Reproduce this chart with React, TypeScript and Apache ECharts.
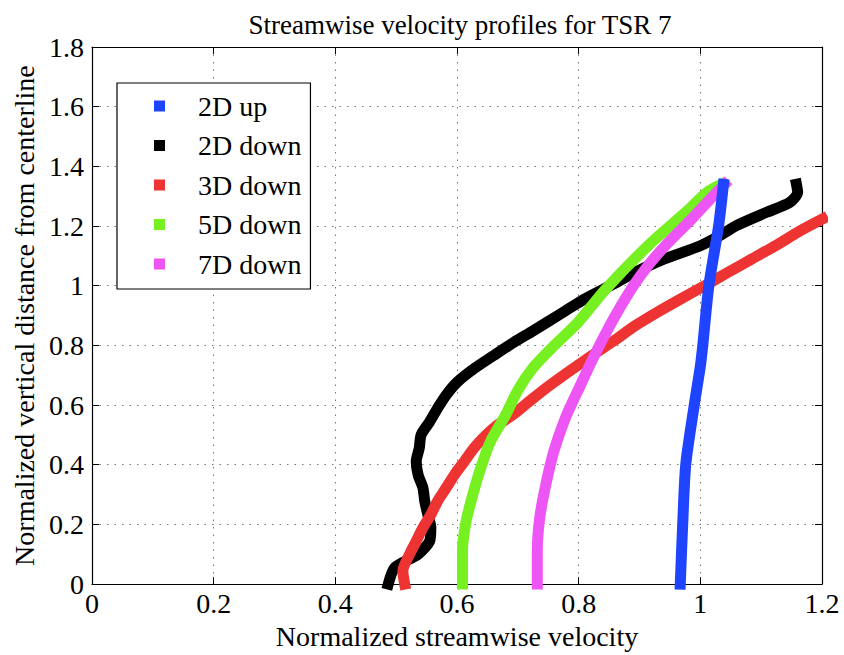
import React, { useEffect, useRef } from "react";
import * as echarts from "echarts";

const seriesNames = ["2D up", "2D down", "3D down", "5D down", "7D down"];
const seriesColors = ["#1E44FF", "#000000", "#EE3333", "#77F022", "#EE55F5"];

const xTicks = [0, 0.2, 0.4, 0.6, 0.8, 1, 1.2];
const yTicks = [0, 0.2, 0.4, 0.6, 0.8, 1, 1.2, 1.4, 1.6, 1.8];

// 2D up
const up2dVel = [0.967, 0.971, 0.976, 0.99, 1.0, 1.004, 1.014, 1.03, 1.038];
const up2dY = [0, 0.2, 0.4, 0.6, 0.73, 0.8, 1.0, 1.2, 1.34];

// 2D down
const down2dVel = [0.487, 0.498, 0.536, 0.555, 0.557, 0.552, 0.547, 0.544, 0.536, 0.533, 0.538, 0.541, 0.555, 0.568, 0.582, 0.601, 0.628, 0.661, 0.694, 0.722, 0.75, 0.78, 0.812, 0.852, 0.888, 0.935, 1.0, 1.032, 1.06, 1.109, 1.147, 1.16, 1.158];
const down2dY = [0, 0.056, 0.1, 0.144, 0.189, 0.233, 0.278, 0.322, 0.367, 0.411, 0.456, 0.5, 0.544, 0.589, 0.633, 0.678, 0.722, 0.767, 0.811, 0.845, 0.88, 0.918, 0.958, 1.0, 1.04, 1.085, 1.134, 1.168, 1.202, 1.246, 1.279, 1.313, 1.34];

// 3D down
const down3dVel = [0.514, 0.511, 0.522, 0.533, 0.544, 0.557, 0.568, 0.582, 0.596, 0.612, 0.628, 0.648, 0.668, 0.692, 0.715, 0.749, 0.787, 0.826, 0.859, 0.893, 0.93, 0.968, 1.007, 1.045, 1.085, 1.125, 1.165, 1.201];
const down3dY = [0, 0.044, 0.1, 0.144, 0.189, 0.233, 0.278, 0.322, 0.367, 0.411, 0.456, 0.5, 0.535, 0.568, 0.606, 0.661, 0.717, 0.772, 0.817, 0.866, 0.912, 0.956, 1.0, 1.044, 1.09, 1.136, 1.185, 1.224];

// 5D down
const down5dVel = [0.609, 0.609, 0.615, 0.626, 0.639, 0.655, 0.68, 0.70, 0.725, 0.76, 0.798, 0.845, 0.917, 0.978, 1.011, 1.035];
const down5dY = [0, 0.111, 0.211, 0.3, 0.389, 0.478, 0.567, 0.65, 0.725, 0.8, 0.875, 0.99, 1.14, 1.25, 1.313, 1.34];

// 7D down
const down7dVel = [0.732, 0.732, 0.736, 0.746, 0.759, 0.778, 0.803, 0.822, 0.843, 0.866, 0.89, 0.915, 0.945, 0.984, 1.016, 1.04];
const down7dY = [0, 0.111, 0.222, 0.333, 0.444, 0.556, 0.667, 0.75, 0.835, 0.92, 1.0, 1.07, 1.14, 1.22, 1.29, 1.34];

const pair = (xs: number[], ys: number[]) => xs.map((x, i) => [x, ys[i]]);

const FONT = "'Liberation Serif', 'Times New Roman', serif";

export default function App() {
  const ref = useRef<HTMLDivElement>(null);
  useEffect(() => {
    if (!ref.current) return;
    const chart = echarts.init(ref.current, null, { renderer: "svg" });
    const allData = [
      pair(up2dVel, up2dY),
      pair(down2dVel, down2dY),
      pair(down3dVel, down3dY),
      pair(down5dVel, down5dY),
      pair(down7dVel, down7dY),
    ];
    const drawOrder = [1, 2, 3, 4, 0];
    const series = drawOrder.map((i) => ({
      name: seriesNames[i],
      type: "line",
      data: allData[i],
      showSymbol: false,
      symbol: "rect",
      clip: false,
      smooth: 0.25,
      color: seriesColors[i],
      lineStyle: { width: 11, color: seriesColors[i], cap: "square", join: "round" },
      emphasis: { disabled: true },
    }));
    const commonTicks = { show: true, inside: true, length: 7, lineStyle: { color: "#000", width: 1 } };
    const axisLine = { show: true, onZero: false, lineStyle: { color: "#000", width: 1.2 } };
    const fmt = (v: number) => String(+v.toFixed(1));
    chart.setOption({
      animation: false,
      backgroundColor: "#fff",
      textStyle: { fontFamily: FONT },
      title: {
        text: "Streamwise velocity profiles for TSR 7",
        left: 455,
        textAlign: "center",
        top: 6,
        textStyle: { fontFamily: FONT, fontSize: 27, fontWeight: "normal", color: "#000" },
      },
      legend: {
        data: seriesNames.map((n, i) => ({ name: n, itemStyle: { color: seriesColors[i] } })),
        orient: "vertical",
        left: 117,
        top: 83,
        padding: [9, 9, 11, 37],
        itemWidth: 11,
        itemHeight: 11,
        itemGap: 11.5,
        icon: "rect",
        borderColor: "#000",
        borderWidth: 1.2,
        backgroundColor: "#fff",
        selectedMode: false,
        textStyle: { fontFamily: FONT, fontSize: 28, color: "#000", lineHeight: 28, padding: [0, 0, 0, 28] },
      },
      grid: { left: 92, right: 22, top: 47, bottom: 64, containLabel: false },
      xAxis: [
        {
          type: "value",
          min: xTicks[0],
          max: xTicks[xTicks.length - 1],
          interval: 0.2,
          position: "bottom",
          name: "Normalized streamwise velocity",
          nameLocation: "middle",
          nameGap: 32,
          nameTextStyle: { fontFamily: FONT, fontSize: 28, color: "#000" },
          axisLine,
          axisTick: commonTicks,
          axisLabel: { fontFamily: FONT, fontSize: 28, color: "#000", margin: 5, formatter: fmt },
          splitLine: { show: true, lineStyle: { color: "#777", type: [1.5, 6], width: 1 } },
        },
        {
          type: "value",
          min: xTicks[0],
          max: xTicks[xTicks.length - 1],
          interval: 0.2,
          position: "top",
          axisLine,
          axisTick: commonTicks,
          axisLabel: { show: false },
          splitLine: { show: false },
        },
      ],
      yAxis: [
        {
          type: "value",
          min: yTicks[0],
          max: yTicks[yTicks.length - 1],
          interval: 0.2,
          position: "left",
          name: "Normalized vertical distance from centerline",
          nameLocation: "middle",
          nameGap: 52,
          nameTextStyle: { fontFamily: FONT, fontSize: 28, color: "#000" },
          axisLine,
          axisTick: commonTicks,
          axisLabel: { fontFamily: FONT, fontSize: 28, color: "#000", margin: 8, formatter: fmt },
          splitLine: { show: true, lineStyle: { color: "#777", type: [1.5, 6], width: 1 } },
        },
        {
          type: "value",
          min: yTicks[0],
          max: yTicks[yTicks.length - 1],
          interval: 0.2,
          position: "right",
          axisLine,
          axisTick: commonTicks,
          axisLabel: { show: false },
          splitLine: { show: false },
        },
      ],
      series,
    });
    return () => chart.dispose();
  }, []);
  return <div ref={ref} style={{ width: 844, height: 655, position: "absolute", left: 0, top: 0 }} />;
}
